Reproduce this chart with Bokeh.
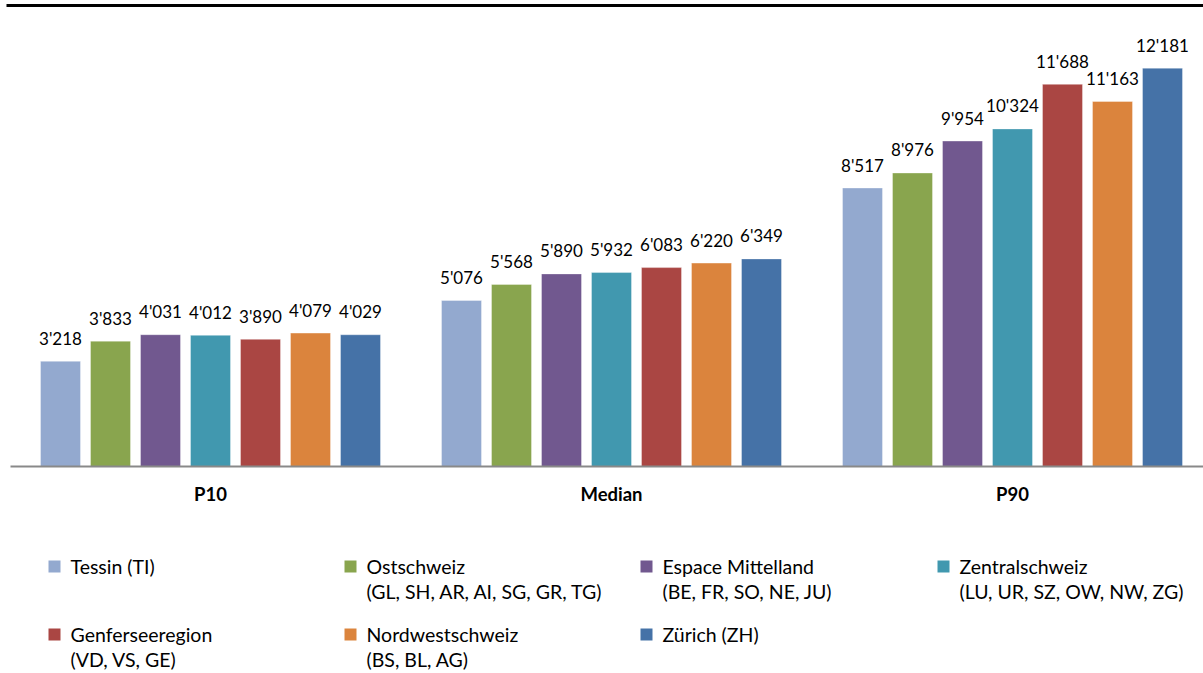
from bokeh.plotting import figure
from bokeh.models import Range1d, ColumnDataSource
from bokeh.core.properties import value
from bokeh.embed import file_html
from bokeh.resources import INLINE

# ---- data ----
groups = ["P10", "Median", "P90"]
regions = ["Tessin (TI)", "Ostschweiz", "Espace Mittelland", "Zentralschweiz",
           "Genferseeregion", "Nordwestschweiz", "Zürich (ZH)"]
region_sub = ["", "(GL, SH, AR, AI, SG, GR, TG)", "(BE, FR, SO, NE, JU)",
              "(LU, UR, SZ, OW, NW, ZG)", "(VD, VS, GE)", "(BS, BL, AG)", ""]
colors = ["#93A9CF", "#89A54E", "#71588F", "#4198AF", "#AA4643", "#DB843D", "#4572A7"]
p10 = [3218, 3833, 4031, 4012, 3890, 4079, 4029]
median = [5076, 5568, 5890, 5932, 6083, 6220, 6349]
p90 = [8517, 8976, 9954, 10324, 11688, 11163, 12181]
series = [p10, median, p90]

# ---- layout (pixel geometry) ----
W, H = 1203, 673
GX0, GPITCH = 210.0, 401.0      # pixel centre of first group, pixels per group
BASE_PY, TOP_PY, TOP_V = 466.0, 67.7, 12181.0
SCALE = (BASE_PY - TOP_PY) / TOP_V
BAR_STEP = 50.0 / GPITCH
BAR_W = 40.0 / GPITCH

def px(x):
    return (x - GX0) / GPITCH

def py(y):
    return (BASE_PY - y) / SCALE

p = figure(width=W, height=H, output_backend="svg", toolbar_location=None,
           x_range=Range1d(px(0), px(W)), y_range=Range1d(py(H), py(0)),
           min_border=0, outline_line_color=None)
p.axis.visible = False
p.grid.visible = False
p.background_fill_color = "white"
p.border_fill_color = "white"

xs, tops, cols, labels = [], [], [], []
for g, vals in enumerate(series):
    for i, v in enumerate(vals):
        xs.append(g + (i - 3) * BAR_STEP)
        tops.append(v)
        cols.append(colors[i])
        labels.append(f"{v:,}".replace(",", "'"))
src = ColumnDataSource(dict(x=xs, top=tops, color=cols, label=labels))
p.vbar(x="x", top="top", bottom=0, width=BAR_W, fill_color="color",
       line_color="white", line_alpha=0.35, line_width=1, source=src)
p.text(x="x", y="top", text="label", source=src, text_align="center",
       text_baseline="alphabetic", y_offset=-23, text_font=value("Lato"),
       text_font_size="17px", text_color="#000000")

# baseline and top rule
p.segment(x0=[px(10)], y0=[0], x1=[px(W)], y1=[0], line_color="#898989", line_width=2)
p.segment(x0=[px(6)], y0=[py(5)], x1=[px(W)], y1=[py(5)], line_color="#000000", line_width=3)

# group labels
p.text(x=list(range(len(groups))), y=[py(493)] * len(groups), text=groups,
       text_align="center", text_baseline="middle", text_font=value("Lato"),
       text_font_style="bold", text_font_size="18.5px", text_color="#000000")

# legend
col_x = [48, 344, 640, 937]
row_y = [566, 634]
for k, name in enumerate(regions):
    r, c = divmod(k, 4)
    sx, sy = col_x[c], row_y[r]
    p.rect(x=[px(sx + 6)], y=[py(sy)], width=12, height=12, width_units="screen",
           height_units="screen", fill_color=colors[k], line_color=None)
    p.text(x=[px(sx + 22)], y=[py(sy)], text=[name], text_baseline="middle",
           text_font=value("Lato"), text_font_size="19.5px", text_color="#000000")
    if region_sub[k]:
        p.text(x=[px(sx + 22)], y=[py(sy + 25)], text=[region_sub[k]], text_baseline="middle",
               text_font=value("Lato"), text_font_size="19.5px", text_color="#000000")

open("out.html", "w").write(file_html(p, INLINE))
